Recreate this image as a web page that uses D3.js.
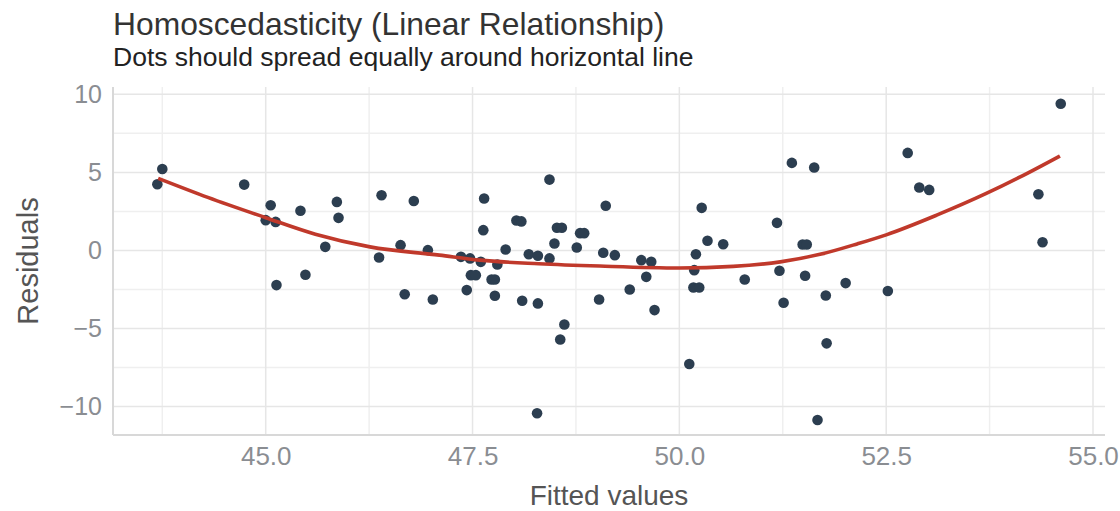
<!DOCTYPE html>
<html>
<head>
<meta charset="utf-8">
<script src="https://cdn.jsdelivr.net/npm/d3@7"></script>
<style>
  html, body { margin: 0; padding: 0; background: #fff; }
  svg { display: block; font-family: 'Liberation Sans', Arial, sans-serif; }
</style>
</head>
<body>
<div id="chart"></div>
<script>
// fitted values / residuals
const fitted = [
  43.69, 43.75, 44.74, 45.06, 45.00, 45.12, 45.13, 45.42, 45.48, 45.72, 45.86, 45.88,
  46.40, 46.37, 46.63, 46.68, 46.79, 46.96, 47.02, 47.36, 47.47, 47.43, 47.48, 47.54,
  47.60, 47.63, 47.64, 47.73, 47.77, 47.77, 47.80, 47.90, 48.03, 48.09, 48.10, 48.18,
  48.29, 48.29, 48.28, 48.43, 48.43, 48.49, 48.52, 48.58, 48.61, 48.56, 48.76, 48.80,
  48.85, 49.03, 49.08, 49.11, 49.22, 49.40, 49.54, 49.66, 49.60, 49.70, 50.12, 50.18,
  50.20, 50.17, 50.24, 50.27, 50.34, 50.53, 50.79, 51.18, 51.21, 51.26, 51.36, 51.49,
  51.54, 51.52, 51.63, 51.67, 51.77, 51.78, 52.01, 52.52, 52.76, 52.90, 53.02, 54.34,
  54.39, 54.61
];
const residuals = [
  4.24, 5.22, 4.22, 2.90, 1.94, 1.83, -2.22, 2.54, -1.56, 0.23, 3.11, 2.09,
  3.54, -0.45, 0.34, -2.80, 3.17, 0.02, -3.14, -0.41, -0.51, -2.54, -1.58, -1.58,
  -0.73, 1.30, 3.33, -1.86, -1.86, -2.90, -0.90, 0.06, 1.92, 1.86, -3.22, -0.24,
  -0.34, -3.39, -10.43, -0.51, 4.54, 0.45, 1.45, 1.45, -4.74, -5.70, 0.19, 1.11,
  1.11, -3.14, -0.15, 2.86, -0.30, -2.50, -0.62, -0.73, -1.69, -3.82, -7.27, -1.26,
  -0.24, -2.37, -2.37, 2.73, 0.62, 0.40, -1.86, 1.77, -1.30, -3.35, 5.61, 0.38,
  0.38, -1.62, 5.31, -10.86, -2.88, -5.95, -2.09, -2.60, 6.25, 4.03, 3.88, 3.60,
  0.53, 9.40
];

// smoother (loess)
const smoothX = [43.70, 44.30, 45.00, 45.60, 46.26, 47.10, 47.59, 48.30, 49.04, 50.00,
  50.65, 51.22, 51.70, 52.15, 52.50, 53.11, 53.71, 54.12, 54.60];
const smoothY = [4.62, 3.40, 2.10, 1.04, 0.23, -0.30, -0.62, -0.85, -1.00, -1.12,
  -1.02, -0.73, -0.25, 0.42, 1.00, 2.26, 3.65, 4.71, 6.05];

const xTicks = [45.0, 47.5, 50.0, 52.5, 55.0];
const xMinor = [43.75, 46.25, 48.75, 51.25, 53.75];
const yTicks = [-10, -5, 0, 5, 10];
const yMinor = [-7.5, -2.5, 2.5, 7.5];

const title = 'Homoscedasticity (Linear Relationship)';
const subtitle = 'Dots should spread equally around horizontal line';
const xTitle = 'Fitted values';
const yTitle = 'Residuals';

const W = 1120, H = 511;
const margin = { top: 87, right: 15, bottom: 76, left: 113 };
const width = W - margin.left - margin.right;
const height = H - margin.top - margin.bottom;

const svg = d3.select('#chart').append('svg')
  .attr('width', W)
  .attr('height', H);

const g = svg.append('g')
  .attr('transform', `translate(${margin.left},${margin.top})`);

const x = d3.scaleLinear().domain([43.154, 55.145]).range([0, width]);
const y = d3.scaleLinear().domain([-11.82, 10.47]).range([height, 0]);

// grid
g.append('g').selectAll('line.xminor')
  .data(xMinor).enter().append('line')
  .attr('x1', d => x(d)).attr('x2', d => x(d))
  .attr('y1', 0).attr('y2', height)
  .attr('stroke', '#efefef').attr('stroke-width', 1.5);
g.append('g').selectAll('line.yminor')
  .data(yMinor).enter().append('line')
  .attr('x1', 0).attr('x2', width)
  .attr('y1', d => y(d)).attr('y2', d => y(d))
  .attr('stroke', '#efefef').attr('stroke-width', 1.5);
g.append('g').selectAll('line.xmajor')
  .data(xTicks).enter().append('line')
  .attr('x1', d => x(d)).attr('x2', d => x(d))
  .attr('y1', 0).attr('y2', height)
  .attr('stroke', '#e6e6e6').attr('stroke-width', 1.5);
g.append('g').selectAll('line.ymajor')
  .data(yTicks).enter().append('line')
  .attr('x1', 0).attr('x2', width)
  .attr('y1', d => y(d)).attr('y2', d => y(d))
  .attr('stroke', '#e6e6e6').attr('stroke-width', 1.5);

// axis lines
g.append('line')
  .attr('x1', 0).attr('x2', 0).attr('y1', 0).attr('y2', height)
  .attr('stroke', '#d8d8d8').attr('stroke-width', 2);
g.append('line')
  .attr('x1', 0).attr('x2', width).attr('y1', height).attr('y2', height)
  .attr('stroke', '#d8d8d8').attr('stroke-width', 2);

// axes text
const xAxis = g.append('g')
  .attr('transform', `translate(0,${height})`)
  .call(d3.axisBottom(x).tickValues(xTicks).tickFormat(d3.format('.1f')).tickSize(0).tickPadding(12));
xAxis.select('.domain').remove();
xAxis.selectAll('text')
  .attr('dy', '0.71em')
  .style('font-size', '26px')
  .attr('fill', '#8a8d92');

const yAxis = g.append('g')
  .call(d3.axisLeft(y).tickValues(yTicks).tickFormat(d => d < 0 ? '\u2212' + Math.abs(d) : d).tickSize(0).tickPadding(11));
yAxis.select('.domain').remove();
yAxis.selectAll('text')
  .style('font-size', '25px')
  .attr('fill', '#8a8d92');

// points
g.append('g').selectAll('circle')
  .data(fitted.map((f, i) => [f, residuals[i]]))
  .enter().append('circle')
  .attr('cx', d => x(d[0]))
  .attr('cy', d => y(d[1]))
  .attr('r', 5.3)
  .attr('fill', '#2c3e50');

// smoother
const line = d3.line()
  .x(d => x(d[0]))
  .y(d => y(d[1]))
  .curve(d3.curveMonotoneX);

g.append('path')
  .datum(smoothX.map((v, i) => [v, smoothY[i]]))
  .attr('fill', 'none')
  .attr('stroke', '#c0392b')
  .attr('stroke-width', 3.6)
  .attr('d', line);

// titles
svg.append('text')
  .attr('x', 113).attr('y', 35)
  .style('font-size', '31.8px')
  .attr('fill', '#333')
  .text(title);
svg.append('text')
  .attr('x', 113).attr('y', 66)
  .style('font-size', '26.5px')
  .attr('fill', '#222')
  .text(subtitle);

svg.append('text')
  .attr('x', margin.left + width / 2).attr('y', 505)
  .attr('text-anchor', 'middle')
  .style('font-size', '28px')
  .attr('fill', '#555')
  .text(xTitle);

svg.append('text')
  .attr('transform', `translate(38,${margin.top + height / 2}) rotate(-90)`)
  .attr('text-anchor', 'middle')
  .style('font-size', '29px')
  .attr('fill', '#555')
  .text(yTitle);
</script>
</body>
</html>
